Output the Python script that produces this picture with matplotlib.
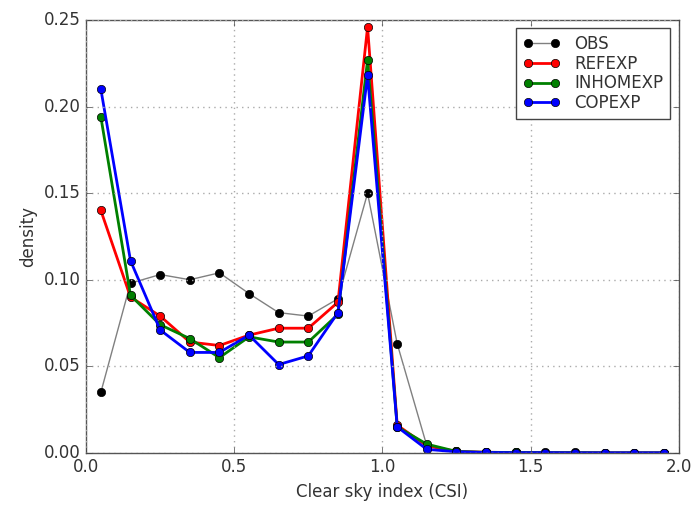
import matplotlib
matplotlib.use("Agg")
import matplotlib.pyplot as plt

csi = [0.05, 0.15, 0.25, 0.35, 0.45, 0.55, 0.65, 0.75, 0.85, 0.95,
       1.05, 1.15, 1.25, 1.35, 1.45, 1.55, 1.65, 1.75, 1.85, 1.95]

obs = [0.035, 0.098, 0.103, 0.100, 0.104, 0.092, 0.081, 0.079, 0.089, 0.150,
       0.063, 0.004, 0.001, 0.0005, 0.0003, 0.0002, 0.0002, 0.0001, 0.0001, 0.0001]
refexp = [0.140, 0.090, 0.079, 0.064, 0.062, 0.068, 0.072, 0.072, 0.087, 0.246,
          0.016, 0.004, 0.0008, 0.0003, 0.0002, 0.0001, 0.0001, 0.0, 0.0, 0.0]
inhomexp = [0.194, 0.091, 0.074, 0.066, 0.055, 0.067, 0.064, 0.064, 0.080, 0.227,
            0.015, 0.005, 0.0008, 0.0003, 0.0002, 0.0001, 0.0001, 0.0, 0.0, 0.0]
copexp = [0.210, 0.111, 0.071, 0.058, 0.058, 0.068, 0.051, 0.056, 0.081, 0.218,
          0.015, 0.002, 0.0006, 0.0002, 0.0001, 0.0001, 0.0, 0.0, 0.0, 0.0]

plt.style.use("classic")

fig = plt.figure(figsize=(6.94, 5.29), dpi=100, facecolor="white")
ax = fig.add_axes([0.124, 0.144, 0.854, 0.818])

ax.plot(csi, obs, color="gray", lw=1, marker="o", ms=6,
        mfc="k", mec="k", label="OBS")
ax.plot(csi, refexp, color="r", lw=2, marker="o", ms=6, mec="k", mew=0.5,
        label="REFEXP")
ax.plot(csi, inhomexp, color="g", lw=2, marker="o", ms=6, mec="k", mew=0.5,
        label="INHOMEXP")
ax.plot(csi, copexp, color="b", lw=2, marker="o", ms=6, mec="k", mew=0.5,
        label="COPEXP")

ax.set_xlim(0, 2)
ax.set_ylim(0, 0.25)
ax.grid(True, color="#aaaaaa", linestyle=":", linewidth=1)
ax.set_xlabel("Clear sky index (CSI)", fontsize=12, color="#333333")
ax.set_ylabel("density", fontsize=12, color="#333333")
ax.tick_params(labelsize=12, colors="#444444", labelcolor="#333333")
for spine in ax.spines.values():
    spine.set_color("#555555")

leg = ax.legend(loc="upper right", fontsize=12, numpoints=2,
                handlelength=2.2, labelspacing=0.1, handletextpad=0.9)
leg.get_frame().set_edgecolor("#444444")
for txt in leg.get_texts():
    txt.set_color("#333333")

fig.savefig("out.png", dpi=100, facecolor="white")
